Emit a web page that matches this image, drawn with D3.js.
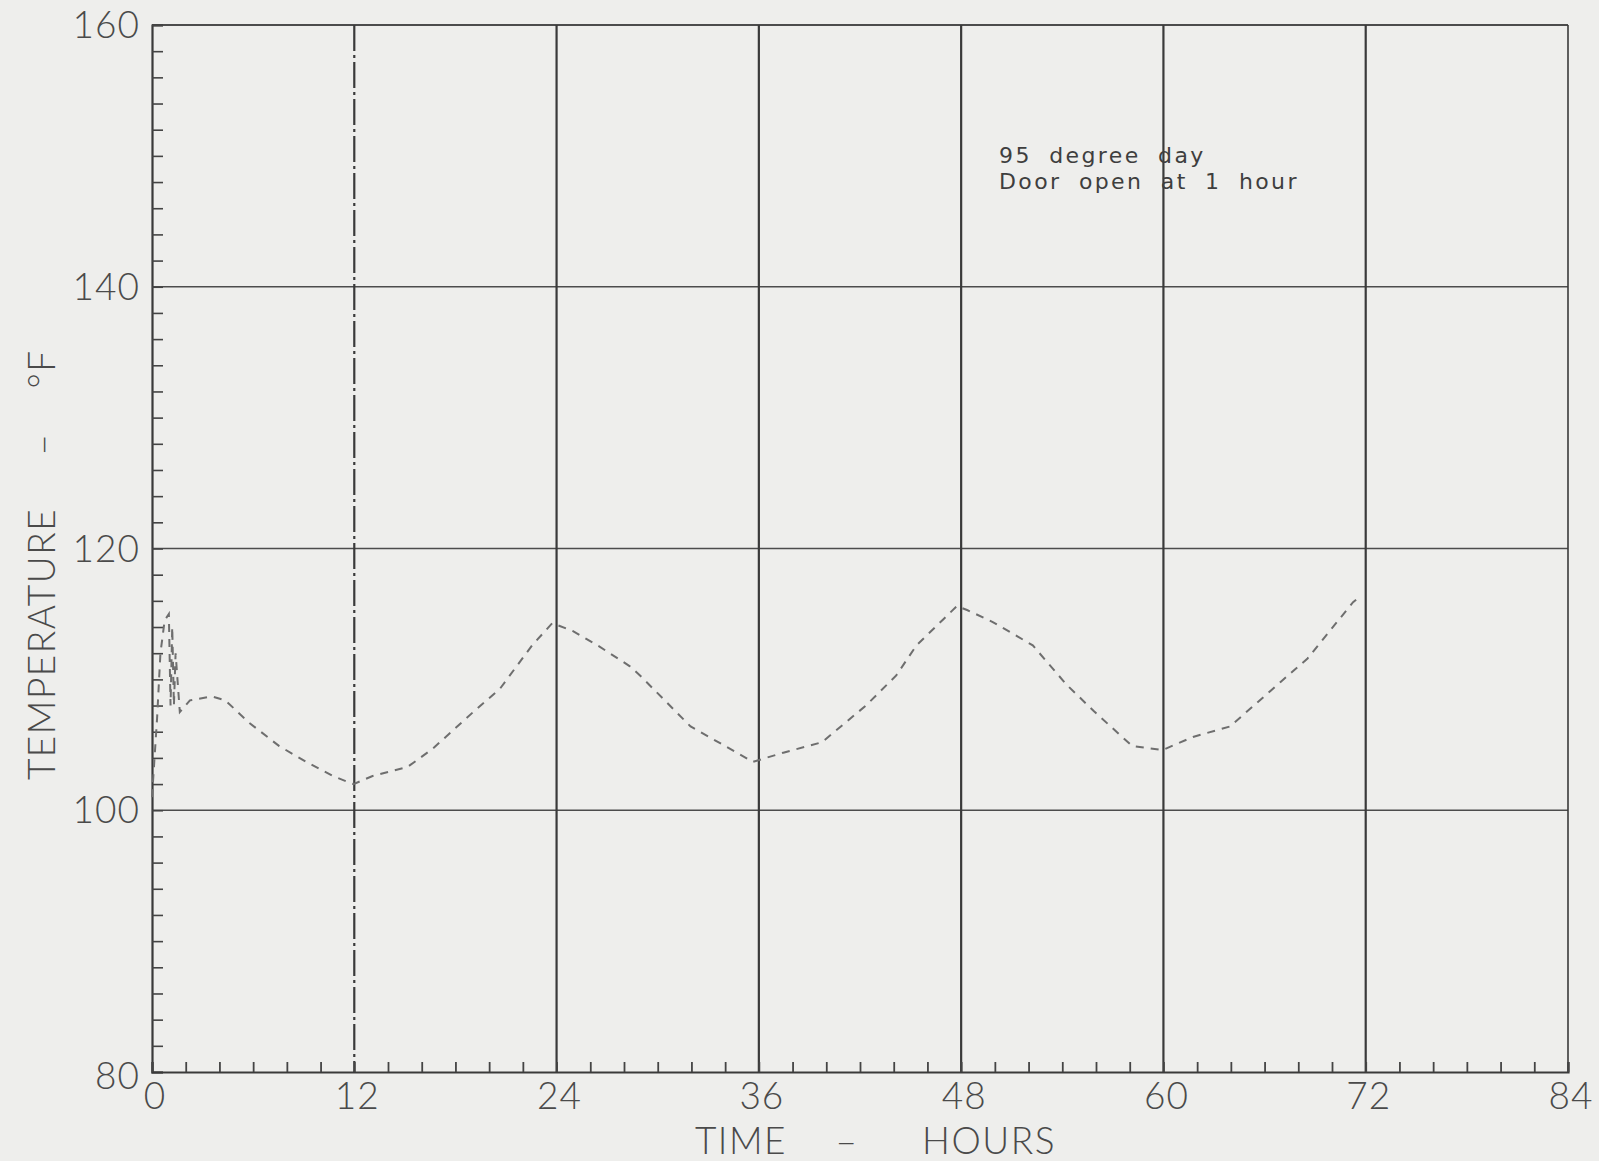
<!DOCTYPE html>
<html>
<head>
<meta charset="utf-8">
<script src="https://cdn.jsdelivr.net/npm/d3@7"></script>
<style>
  html, body { margin: 0; padding: 0; background: #eeeeec; }
  svg { display: block; }
  text { font-family: "Lato", "DejaVu Sans", sans-serif; font-weight: 300; fill: #4a4a4a; }
  text.note { font-family: "DejaVu Sans", sans-serif; font-weight: 400; fill: #3e3e3e; }
</style>
</head>
<body>
<svg id="chart" width="1599" height="1161"></svg>
<script>
// Room temperature after HVAC loss, door opened at 1 hour
const timeHours = [0, 0.3, 0.5, 0.75, 1.0, 1.1, 1.2, 1.3, 1.4, 1.65, 2.25, 3.55, 4.35, 5.75, 7.55, 9.15, 10.75, 11.95,
  13.05, 15.15, 16.65, 19.05, 20.65, 22.55, 23.75, 24.95, 26.55, 28.35, 28.95, 31.95, 35.65, 37.45, 39.75, 42.35, 44.15, 45.35,
  46.95, 47.75, 48.35, 49.85, 52.25, 54.25, 55.85, 58.15, 59.95, 61.75, 63.95, 66.95, 68.55, 71.25, 71.75];
const temperatureF = [101, 107, 112, 114.5, 115, 108, 114, 108, 112, 107.5, 108.4, 108.7, 108.4, 106.7, 104.9, 103.7, 102.6, 102.0,
  102.6, 103.3, 104.7, 107.5, 109.3, 112.6, 114.3, 113.7, 112.5, 111.0, 110.3, 106.4, 103.7, 104.4, 105.2, 108.0, 110.3, 112.6,
  114.6, 115.6, 115.3, 114.4, 112.6, 109.6, 107.6, 104.9, 104.6, 105.6, 106.4, 109.8, 111.6, 115.9, 116.4];

const xMajorTicks = [0, 12, 24, 36, 48, 60, 72, 84];
const yMajorTicks = [80, 100, 120, 140, 160];
const annotationLines = ["95 degree day", "Door open at 1 hour"];

const svg = d3.select("#chart");
const plotLeft = 152, plotRight = 1568, plotTop = 25, plotBottom = 1072;

const x = d3.scaleLinear().domain([0, 84]).range([plotLeft, plotRight]);
const y = d3.scaleLinear().domain([80, 160]).range([plotBottom, plotTop]);

// horizontal grid lines
svg.append("g").selectAll("line")
  .data(yMajorTicks.filter(v => v > 80))
  .join("line")
  .attr("x1", plotLeft).attr("x2", plotRight)
  .attr("y1", d => y(d)).attr("y2", d => y(d))
  .attr("stroke", "#4c4c4c").attr("stroke-width", d => d === 160 ? 1.8 : 1.4);

// vertical grid lines
svg.append("g").selectAll("line")
  .data(xMajorTicks.filter(v => v > 0))
  .join("line")
  .attr("x1", d => x(d)).attr("x2", d => x(d))
  .attr("y1", plotTop).attr("y2", plotBottom)
  .attr("stroke", "#3a3a3a")
  .attr("stroke-width", d => d === 84 ? 1.6 : 2.2)
  .attr("stroke-dasharray", d => d === 12 ? "26,4,3,4" : null);

// minor ticks on the left axis, pointing into the plot
const yAxis = d3.axisRight(y).tickValues(d3.range(80, 161, 2)).tickSize(11).tickFormat("");
const gy = svg.append("g").attr("transform", `translate(${plotLeft},0)`).call(yAxis);
gy.select(".domain").attr("stroke", "#3a3a3a").attr("stroke-width", 2.2);
gy.selectAll(".tick line").attr("stroke", "#444").attr("stroke-width", 1.6);

// minor ticks on the bottom axis, pointing up
const xAxis = d3.axisTop(x).tickValues(d3.range(0, 85, 2)).tickSize(10).tickFormat("");
const gx = svg.append("g").attr("transform", `translate(0,${plotBottom})`).call(xAxis);
gx.select(".domain").attr("stroke", "#3a3a3a").attr("stroke-width", 2.2);
gx.selectAll(".tick line").attr("stroke", "#444").attr("stroke-width", 1.8);

// tick labels
svg.append("g").selectAll("text")
  .data(yMajorTicks)
  .join("text")
  .attr("x", plotLeft - 12)
  .attr("y", d => y(d) + (d === 80 ? 17 : 13))
  .attr("text-anchor", "end")
  .attr("font-size", 37)
  .attr("letter-spacing", 1)
  .text(d => d);

svg.append("g").selectAll("text")
  .data(xMajorTicks)
  .join("text")
  .attr("x", d => x(d) + 3)
  .attr("y", plotBottom + 37)
  .attr("text-anchor", "middle")
  .attr("font-size", 37)
  .attr("letter-spacing", 1)
  .text(d => d);

// axis titles, each word placed on its own
const xTitle = [["TIME", 741], ["\u2013", 847], ["HOURS", 989]];
svg.append("g").selectAll("text")
  .data(xTitle)
  .join("text")
  .attr("x", d => d[1]).attr("y", 1154)
  .attr("text-anchor", "middle")
  .attr("font-size", 37)
  .attr("letter-spacing", 1.5)
  .text(d => d[0]);

const yTitle = [["TEMPERATURE", 644], ["\u2013", 444], ["\u00B0F", 369]];
svg.append("g").selectAll("text")
  .data(yTitle)
  .join("text")
  .attr("transform", d => `translate(55,${d[1]}) rotate(-90)`)
  .attr("text-anchor", "middle")
  .attr("font-size", 37)
  .attr("letter-spacing", 1.5)
  .text(d => d[0]);

// temperature curve
const line = d3.line().x((d, i) => x(timeHours[i])).y(d => y(d));
svg.append("path")
  .datum(temperatureF)
  .attr("d", line)
  .attr("fill", "none")
  .attr("stroke", "#6e6e6e")
  .attr("stroke-width", 2)
  .attr("stroke-dasharray", "8,7");

// annotation
svg.append("g").selectAll("text")
  .data(annotationLines)
  .join("text")
  .attr("class", "note")
  .attr("x", 999)
  .attr("y", (d, i) => 163 + i * 26)
  .style("font-size", "22px")
  .style("letter-spacing", "2.4px")
  .style("word-spacing", "8px")
  .text(d => d);
</script>
</body>
</html>
